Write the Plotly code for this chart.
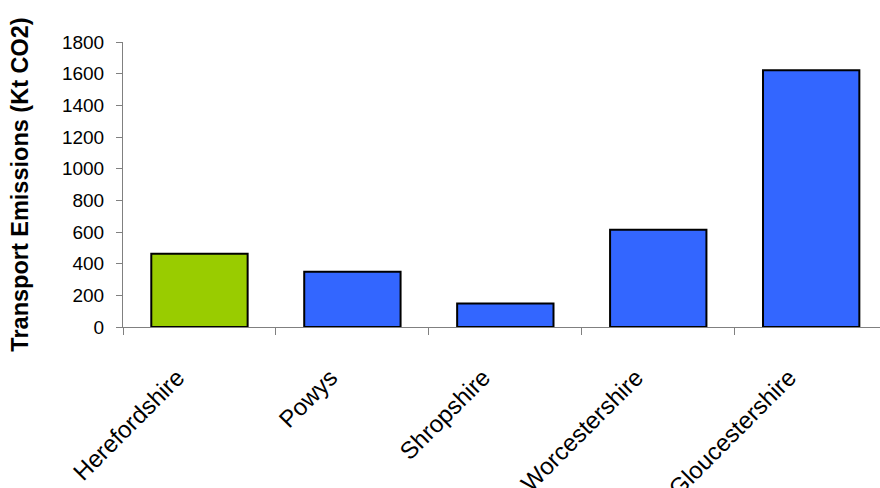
import plotly.graph_objects as go

# Transport CO2 emissions by county
counties = ["Herefordshire", "Powys", "Shropshire", "Worcestershire", "Gloucestershire"]
emissions = [462, 349, 148, 614, 1621]
bar_colors = ["#99CC00", "#3366FF", "#3366FF", "#3366FF", "#3366FF"]
y_ticks = [0, 200, 400, 600, 800, 1000, 1200, 1400, 1600, 1800]

fig = go.Figure(
    go.Bar(
        x=counties,
        y=emissions,
        marker=dict(color=bar_colors, line=dict(color="#000000", width=2)),
        width=0.63,
    )
)

axis_grey = "#808080"

fig.update_layout(
    width=880,
    height=488,
    margin=dict(l=123, r=0, t=42, b=161, pad=0),
    paper_bgcolor="white",
    plot_bgcolor="white",
    showlegend=False,
    font=dict(family="Liberation Sans, Arial, sans-serif", color="#000000"),
    xaxis=dict(
        range=[-0.5, 4.45],
        automargin=False,
        showline=True,
        linecolor=axis_grey,
        linewidth=1,
        ticks="outside",
        tickson="boundaries",
        ticklen=7,
        tickcolor=axis_grey,
        tickangle=-45,
        tickfont=dict(size=24),
        ticklabelstandoff=26,
        ticklabelshift=-22,
        showgrid=False,
        zeroline=False,
    ),
    yaxis=dict(
        range=[0, 1800],
        automargin=False,
        tickvals=y_ticks,
        showline=True,
        linecolor=axis_grey,
        linewidth=1,
        ticks="outside",
        ticklen=6,
        tickcolor=axis_grey,
        tickfont=dict(size=19),
        ticklabelstandoff=8,
        showgrid=False,
        zeroline=False,
        title=dict(
            text="<b>Transport Emissions (Kt CO2)</b>",
            font=dict(size=23.5),
            standoff=26,
        ),
    ),
)

fig.write_html("out.html")
